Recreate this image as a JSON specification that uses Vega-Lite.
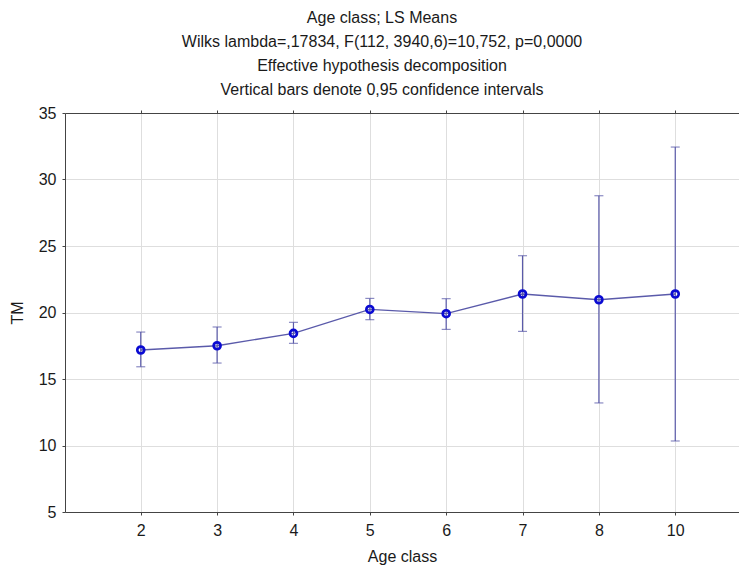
{
  "$schema": "https://vega.github.io/schema/vega-lite/v6.json",
  "width": 674,
  "height": 399,
  "autosize": {"type": "none"},
  "padding": {"left": 65, "top": 113, "right": 0, "bottom": 53},
  "background": "white",
  "config": {
    "view": {"stroke": null},
    "font": "Liberation Sans",
    "axis": {
      "labelFont": "Liberation Sans",
      "titleFont": "Liberation Sans",
      "labelFontSize": 16,
      "titleFontSize": 16,
      "titleFontWeight": "normal",
      "labelColor": "#1a1a1a",
      "titleColor": "#1a1a1a",
      "domainColor": "#444444",
      "tickColor": "#444444",
      "gridColor": "#dedede",
      "tickSize": 3
    }
  },
  "title": {
    "text": ["Age class; LS Means", "Wilks lambda=,17834, F(112, 3940,6)=10,752, p=0,0000", "Effective hypothesis decomposition", "Vertical bars denote 0,95 confidence intervals"],
    "font": "Liberation Sans",
    "fontSize": 16,
    "fontWeight": "normal",
    "color": "#1a1a1a",
    "lineHeight": 24,
    "anchor": "middle",
    "dx": -20,
    "offset": 7
  },
  "data": {
    "values": [
      {"age": "2", "mean": 17.18, "lo": 15.92, "hi": 18.53},
      {"age": "3", "mean": 17.50, "lo": 16.20, "hi": 18.91},
      {"age": "4", "mean": 18.43, "lo": 17.68, "hi": 19.26},
      {"age": "5", "mean": 20.23, "lo": 19.46, "hi": 21.06},
      {"age": "6", "mean": 19.91, "lo": 18.73, "hi": 21.04},
      {"age": "7", "mean": 21.39, "lo": 18.58, "hi": 24.27},
      {"age": "8", "mean": 20.96, "lo": 13.20, "hi": 28.78},
      {"age": "10", "mean": 21.39, "lo": 10.34, "hi": 32.44}
    ]
  },
  "resolve": {"axis": {"x": "independent"}},
  "layer": [
    {
      "mark": {"type": "rule", "color": "#5a5aaa", "strokeWidth": 1.2},
      "encoding": {
        "x": {
          "field": "age", "type": "ordinal",
          "sort": ["2", "3", "4", "5", "6", "7", "8", "10"],
          "scale": {"type": "point", "padding": 0.9134, "align": 0.543},
          "axis": {"orient": "bottom", "title": "Age class", "labelAngle": 0, "grid": true, "labelPadding": 7, "titlePadding": 10}
        },
        "y": {
          "field": "lo", "type": "quantitative",
          "scale": {"domain": [5, 35], "nice": false, "zero": false},
          "axis": {"title": "TM", "values": [5, 10, 15, 20, 25, 30, 35], "grid": true, "labelPadding": 6, "titlePadding": 13}
        },
        "y2": {"field": "hi"}
      }
    },
    {
      "mark": {"type": "tick", "color": "#5a5aaa", "size": 9, "thickness": 1.2, "orient": "horizontal"},
      "encoding": {
        "x": {"field": "age", "type": "ordinal", "sort": ["2", "3", "4", "5", "6", "7", "8", "10"], "axis": null},
        "y": {"field": "lo", "type": "quantitative"}
      }
    },
    {
      "mark": {"type": "tick", "color": "#5a5aaa", "size": 9, "thickness": 1.2, "orient": "horizontal"},
      "encoding": {
        "x": {"field": "age", "type": "ordinal", "sort": ["2", "3", "4", "5", "6", "7", "8", "10"], "axis": null},
        "y": {"field": "hi", "type": "quantitative"}
      }
    },
    {
      "mark": {"type": "line", "color": "#5a5aaa", "strokeWidth": 1.3},
      "encoding": {
        "x": {"field": "age", "type": "ordinal", "sort": ["2", "3", "4", "5", "6", "7", "8", "10"], "axis": null},
        "y": {"field": "mean", "type": "quantitative"}
      }
    },
    {
      "mark": {"type": "point", "shape": "circle", "filled": false, "color": "#0a0ad2", "strokeWidth": 2.7, "size": 48, "opacity": 1},
      "encoding": {
        "x": {
          "field": "age", "type": "ordinal",
          "sort": ["2", "3", "4", "5", "6", "7", "8", "10"],
          "axis": {"orient": "top", "title": null, "labels": false, "grid": false}
        },
        "y": {"field": "mean", "type": "quantitative"}
      }
    }
  ]
}
